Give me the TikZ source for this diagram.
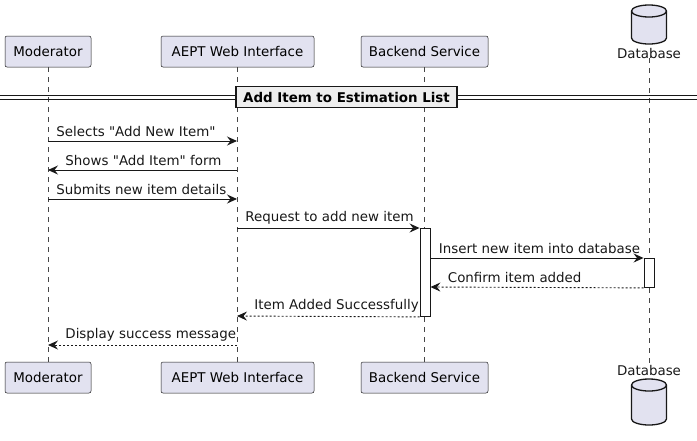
\documentclass[tikz,border=0pt]{standalone}
\usepackage{fontspec}
\setmainfont{DejaVu Sans}[Ligatures=TeXOff]
\usetikzlibrary{arrows.meta}
\definecolor{partfill}{HTML}{E2E2F0}
\definecolor{divfill}{HTML}{EEEEEE}
\definecolor{ink}{HTML}{181818}
\newcommand{\fs}{\fontsize{13.4}{15}\selectfont}
\tikzset{
  part/.style={draw=ink, fill=partfill, rounded corners=2pt, minimum height=31pt, inner sep=0pt, line width=0.5pt, font=\fs},
  life/.style={draw=ink!80, dash pattern=on 5pt off 5pt, line width=0.5pt},
  msg/.style={draw=ink, -{Stealth[length=10pt,width=9pt,inset=3.5pt]}, line width=0.9pt},
  ret/.style={msg, dash pattern=on 2pt off 2pt},
  lblr/.style={font=\fs, anchor=south west, inner sep=1pt, text=ink},
  act/.style={draw=ink, fill=white, line width=0.9pt, minimum width=10pt, inner sep=0pt},
  db/.style={draw=ink, fill=partfill, line width=1.3pt},
  dbl/.style={font=\fs, inner sep=0pt, text=ink}
}
\begin{document}
\begin{tikzpicture}[x=1pt,y=-1pt]
\useasboundingbox (0,0) rectangle (697,440);
% participants top
\node[part, minimum width=86pt] (modT) at (48,51.5) {Moderator};
\node[part, minimum width=153pt] (webT) at (237.5,51.5) {AEPT Web Interface};
\node[part, minimum width=127pt] (bckT) at (424.5,51.5) {Backend Service};
\node[dbl] (dbT) at (649,53) {Database};
% participants bottom
\node[part, minimum width=86pt] (modB) at (48,377.5) {Moderator};
\node[part, minimum width=153pt] (webB) at (237.5,377.5) {AEPT Web Interface};
\node[part, minimum width=127pt] (bckB) at (424.5,377.5) {Backend Service};
\node[dbl] (dbB) at (649,370) {Database};
% lifelines
\draw[life] (modT.south) -- (modB.north);
\draw[life] (webT.south) -- (webB.north);
\draw[life] (bckT.south) -- (bckB.north);
\draw[life] (dbT.south) -- (dbB.north);
% cylinders
\draw[db] (631.5,11) -- (631.5,38) arc[start angle=180,end angle=360,x radius=17.5pt,y radius=6pt] -- (666.5,11) arc[start angle=0,end angle=180,x radius=17.5pt,y radius=6pt] -- cycle;
\draw[db] (631.5,11) arc[start angle=180,end angle=360,x radius=17.5pt,y radius=6pt];
\draw[db] (631.5,385) -- (631.5,419) arc[start angle=180,end angle=360,x radius=17.5pt,y radius=6pt] -- (666.5,385) arc[start angle=0,end angle=180,x radius=17.5pt,y radius=6pt] -- cycle;
\draw[db] (631.5,385) arc[start angle=180,end angle=360,x radius=17.5pt,y radius=6pt];
% divider
\draw[ink, line width=0.9pt] (0,95) -- (697,95);
\draw[ink, line width=0.9pt] (0,99) -- (697,99);
\node[draw=ink, fill=divfill, line width=1.5pt, minimum width=221pt, minimum height=21pt, inner sep=0pt, font=\fs\bfseries] (div) at (346.5,97) {Add Item to Estimation List};
% activations
\node[act, minimum height=88pt, anchor=north] (actB) at (425,228) {};
\node[act, minimum height=29pt, anchor=north] (actD) at (649,258) {};
% coordinates on lifelines
\coordinate (m1) at (48,141); \coordinate (w1) at (237,141);
\coordinate (m2) at (48,170); \coordinate (w2) at (237,170);
\coordinate (m3) at (48,199); \coordinate (w3) at (237,199);
\coordinate (w4) at (237,228);
\coordinate (w7) at (237,316);
\coordinate (m8) at (48,345); \coordinate (w8) at (237,345);
% messages
\draw[msg] (m1) -- (w1) node[lblr, pos=0, xshift=7pt, yshift=2.5pt] {Selects "Add New Item"};
\draw[msg] (w2) -- (m2) node[lblr, pos=1, xshift=16pt, yshift=2.5pt] {Shows "Add Item" form};
\draw[msg] (m3) -- (w3) node[lblr, pos=0, xshift=7pt, yshift=2.5pt] {Submits new item details};
\draw[msg] (w4) -- (actB.north west) node[lblr, pos=0, xshift=7pt, yshift=2.5pt] {Request to add new item};
\draw[msg] ([yshift=-30pt]actB.north east) -- (actD.north west) node[lblr, pos=0, xshift=7pt, yshift=2.5pt] {Insert new item into database};
\draw[ret] (actD.south west) -- ([yshift=-59pt]actB.north east) node[lblr, pos=1, xshift=16pt, yshift=2.5pt] {Confirm item added};
\draw[ret] (actB.south west) -- (w7) node[lblr, pos=1, xshift=16pt, yshift=2.5pt] {Item Added Successfully};
\draw[ret] (w8) -- (m8) node[lblr, pos=1, xshift=16pt, yshift=2.5pt] {Display success message};
\end{tikzpicture}
\end{document}
